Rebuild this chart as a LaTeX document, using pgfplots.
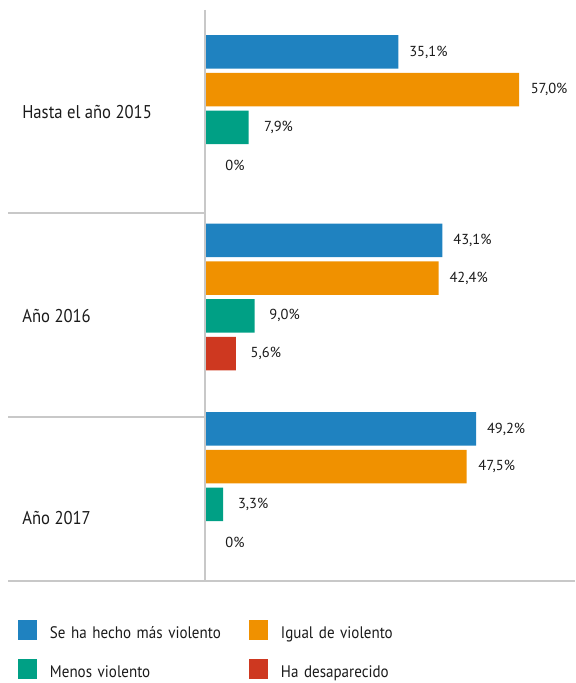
\documentclass[border=0pt]{standalone}
\usepackage{fontspec}
\setmainfont{PT Sans}
\newfontfamily\condfont{PT Sans}[FakeStretch=0.9]
\usepackage{pgfplots}
\pgfplotsset{compat=1.18}
\definecolor{cblue}{RGB}{31,130,192}
\definecolor{corange}{RGB}{240,145,0}
\definecolor{cgreen}{RGB}{0,160,133}
\definecolor{cred}{RGB}{206,56,32}
\definecolor{cgrid}{RGB}{200,200,200}
\definecolor{ctext}{RGB}{26,26,26}
\begin{document}
\begin{tikzpicture}
\begin{axis}[
  width=575pt, height=683pt, scale only axis,
  xmin=-37.205, xmax=67.15, ymin=0, ymax=683,
  axis lines=none,
  clip=false,
  xbar, bar width=33.5pt, bar shift=0pt,
  nodes near coords, point meta=explicit symbolic,
  nodes near coords style={anchor=center, xshift=30pt, font=\fontsize{14.5}{15}\selectfont, text=ctext},
  legend columns=2,
  legend image code/.code={\fill[#1] (0pt,-1pt) rectangle (19pt,19pt);},
  legend style={at={(axis description cs:0.0313,0.0925)}, anchor=north west,
    draw=none, fill=none, inner sep=0pt, outer sep=0pt,
    cells={anchor=base west},
    nodes={inner sep=0pt, text depth=0pt, text width=199pt, align=left, text=ctext},
    font=\condfont\fontsize{16.7}{18}\selectfont,
    row sep=19pt,
    /tikz/every odd column/.append style={column sep=13pt},
    /tikz/every even column/.append style={column sep=0pt}},
]
% fix the picture's bounding box to the axis rectangle
\path (rel axis cs:0,0) rectangle (rel axis cs:1,1);
% Se ha hecho más violento
\addplot[fill=cblue, draw=none] coordinates {
  (35.1,631) [35,1\%]
  (43.1,442.5) [43,1\%]
  (49.2,254) [49,2\%]
};
\addlegendentry{Se ha hecho más violento}
% Igual de violento
\addplot[fill=corange, draw=none] coordinates {
  (57.0,593.3) [57,0\%]
  (42.4,404.8) [42,4\%]
  (47.5,216.3) [47,5\%]
};
\addlegendentry{Igual de violento}
% Menos violento
\addplot[fill=cgreen, draw=none] coordinates {
  (7.9,555.6) [7,9\%]
  (9.0,367.1) [9,0\%]
  (3.3,178.6) [3,3\%]
};
\addlegendentry{Menos violento}
% Ha desaparecido
\addplot[fill=cred, draw=none] coordinates {
  (0,517.9) [0\%]
  (5.6,329.4) [5,6\%]
  (0,140.9) [0\%]
};
\addlegendentry{Ha desaparecido}
% axis and separator lines
\draw[cgrid, line width=1.4pt] (axis cs:0,673) -- (axis cs:0,101);
\draw[cgrid, line width=1.4pt] (axis cs:-35.75,470) -- (axis cs:0,470);
\draw[cgrid, line width=1.4pt] (axis cs:-35.75,266) -- (axis cs:0,266);
\draw[cgrid, line width=1.4pt] (axis cs:-35.75,102) -- (axis cs:67.15,102);
% category labels
\node[anchor=base west, font=\condfont\fontsize{18.5}{19}\selectfont, text=ctext] at (axis cs:-33.8,564.7) {Hasta el año 2015};
\node[anchor=base west, font=\condfont\fontsize{18.5}{19}\selectfont, text=ctext] at (axis cs:-33.8,360.7) {Año 2016};
\node[anchor=base west, font=\condfont\fontsize{18.5}{19}\selectfont, text=ctext] at (axis cs:-33.8,158) {Año 2017};
\end{axis}
\end{tikzpicture}
\end{document}
